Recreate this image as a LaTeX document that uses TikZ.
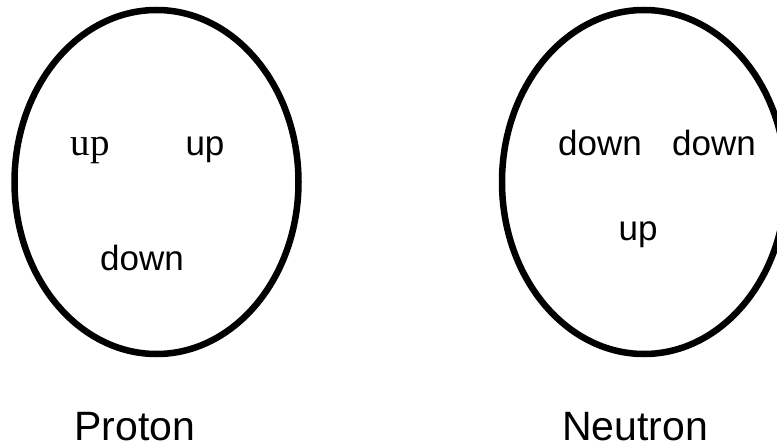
\documentclass[tikz,border=0pt]{standalone}
\usepackage{fontspec}
\setmainfont{Liberation Sans}
\newfontfamily\serifup{Liberation Serif}
\begin{document}
\begin{tikzpicture}[x=1pt,y=-1pt,
  shell/.style={draw=black,line width=6.5pt},
  quark/.style={inner sep=0pt,font=\fontsize{35}{40}\selectfont},
  squark/.style={inner sep=0pt,font=\serifup\fontsize{39}{44}\selectfont},
  title/.style={inner sep=0pt,font=\fontsize{41}{46}\selectfont}]
\useasboundingbox (0,0) rectangle (777,444);
\begin{scope}
\clip (0,0) rectangle (777,444);
\draw[shell] (156.5,182) ellipse [x radius=142, y radius=172];
\draw[shell] (644,182) ellipse [x radius=142, y radius=172];
\end{scope}
\node[squark,anchor=base] (pu1) at (90,155) {up};
\node[quark,anchor=base] (pu2) at (205,155) {up};
\node[quark,anchor=base] (pd) at (142,270) {down};
\node[quark,anchor=base] (nd1) at (600,155) {down};
\node[quark,anchor=base] (nd2) at (714,155) {down};
\node[quark,anchor=base] (nu) at (638,240) {up};
\node[title,anchor=base] (p) at (135,440) {Proton};
\node[title,anchor=base] (n) at (635,440) {Neutron};
\end{tikzpicture}
\end{document}
